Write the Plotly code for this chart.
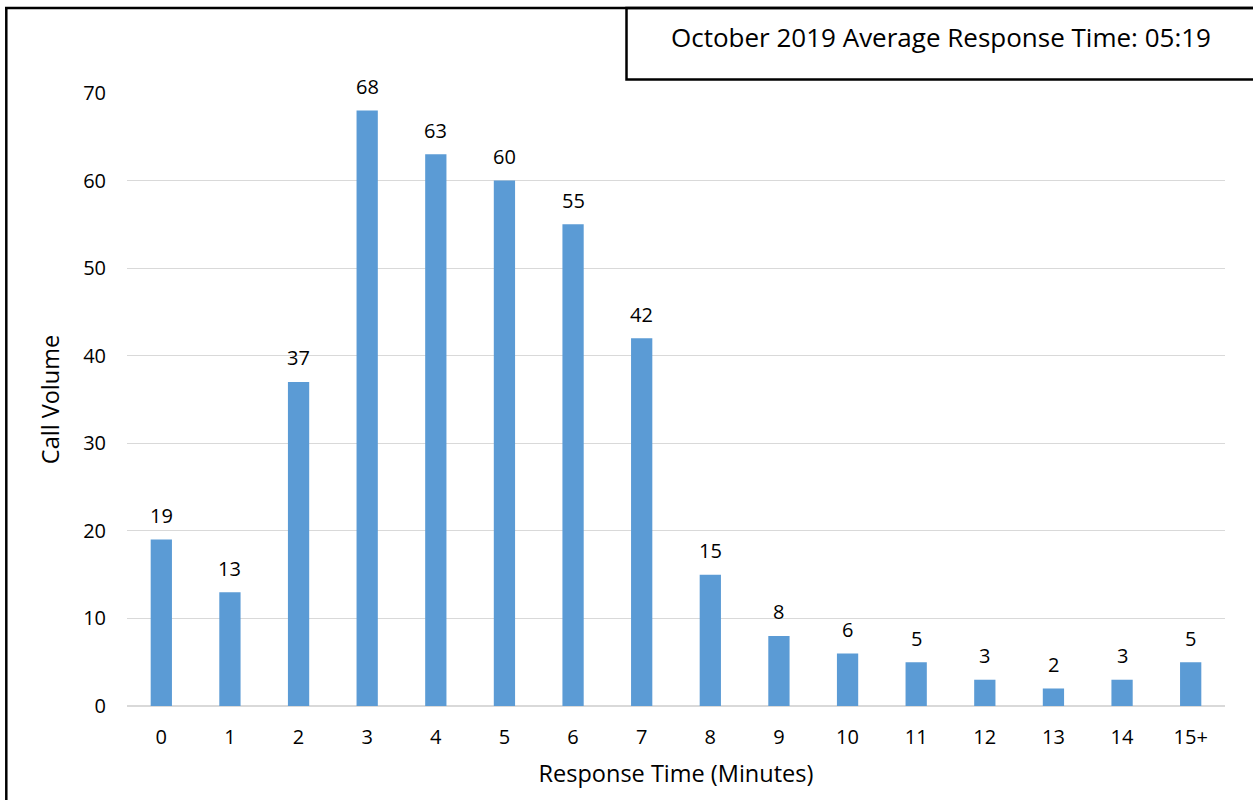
import plotly.graph_objects as go

categories = ["0", "1", "2", "3", "4", "5", "6", "7", "8", "9", "10", "11", "12", "13", "14", "15+"]
call_volume = [19, 13, 37, 68, 63, 60, 55, 42, 15, 8, 6, 5, 3, 2, 3, 5]
y_ticks = [0, 10, 20, 30, 40, 50, 60, 70]
title_text = "October 2019 Average Response Time: 05:19"

W, H = 1253, 800
ML, MR, MT, MB = 127, 28, 93, 94
PW, PH = W - ML - MR, H - MT - MB

def px_x(x):
    return (x - ML) / PW

def px_y(y):
    return (H - MB - y) / PH

FONT = "'Open Sans', sans-serif"

fig = go.Figure(go.Bar(
    x=categories, y=call_volume,
    marker=dict(color="#5B9BD5", line=dict(width=0)),
    width=0.31,
))

label_annotations = [
    dict(x=c, y=v, xref="x", yref="y", text=str(v), showarrow=False,
         xanchor="center", yanchor="middle", yshift=24,
         font=dict(size=20, color="#000000", family=FONT))
    for c, v in zip(categories, call_volume)
]

fig.update_layout(
    width=W, height=H,
    margin=dict(l=ML, r=MR, t=MT, b=MB),
    paper_bgcolor="white", plot_bgcolor="white",
    font=dict(family=FONT, size=20, color="#000000"),
    showlegend=False,
    xaxis=dict(
        type="category", showgrid=False, zeroline=False, showline=False,
        ticks="", ticklabelstandoff=17,
        tickfont=dict(size=20),
        title=dict(text="Response Time (Minutes)", font=dict(size=23.5), standoff=16),
    ),
    yaxis=dict(
        range=[0, 70], tickvals=y_ticks, showgrid=True, gridcolor="#D9D9D9", gridwidth=1,
        zeroline=True, zerolinecolor="#D9D9D9", zerolinewidth=1.5, showline=False,
        ticks="", ticklabelstandoff=20, tickfont=dict(size=20),
        title=dict(text="Call Volume", font=dict(size=23.5), standoff=16),
    ),
    shapes=[
        dict(type="line", xref="paper", yref="paper", x0=px_x(6.3), x1=px_x(6.3), y0=px_y(7), y1=px_y(805),
             line=dict(color="black", width=2.5)),
        dict(type="line", xref="paper", yref="paper", x0=px_x(5), x1=px_x(1260), y0=px_y(8), y1=px_y(8),
             line=dict(color="black", width=2.5)),
        dict(type="rect", xref="paper", yref="paper", x0=px_x(626.5), x1=px_x(1262), y0=px_y(8), y1=px_y(79.5),
             line=dict(color="black", width=2.5), fillcolor="rgba(0,0,0,0)"),
    ],
    annotations=label_annotations + [
        dict(text=title_text, xref="paper", yref="paper", x=px_x(941), y=px_y(37),
             xanchor="center", yanchor="middle", showarrow=False, font=dict(size=26)),
    ],
)

fig.write_html("out.html", config={"displayModeBar": False},
               post_script="document.body.style.margin='0';document.body.style.overflow='hidden';")
